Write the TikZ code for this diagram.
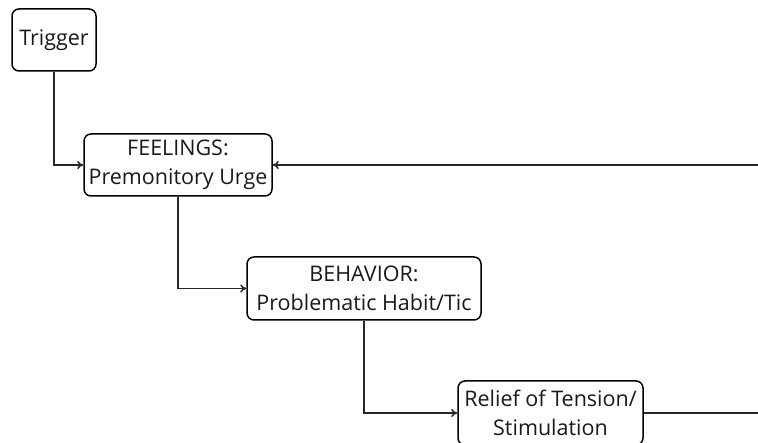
\documentclass[tikz,border=0pt]{standalone}
\usepackage{fontspec}
\setmainfont{Open Sans}
\usetikzlibrary{arrows.meta}
\begin{document}
\begin{tikzpicture}[x=1pt,y=-1pt,
  stagebox/.style={draw, line width=1.5pt, rounded corners=7pt, align=center,
    inner sep=0pt, font=\fontsize{21.5}{28.5}\selectfont, text=black!90},
  link/.style={line width=1.5pt, draw=black!85, -{To[length=6pt,width=8pt]}},
  plain/.style={line width=1.5pt, draw=black!85}]
\useasboundingbox (0,0) rectangle (758,443);
\clip (0,0) rectangle (758,443);
\node[stagebox, minimum width=84pt, minimum height=62pt] (trig) at (54,40) {Trigger};
\node[stagebox, minimum width=188pt, minimum height=62pt] (feel) at (178,165) {FEELINGS:\\Premonitory Urge};
\node[stagebox, minimum width=234pt, minimum height=63pt] (beh) at (364,288.5) {BEHAVIOR:\\Problematic Habit/Tic};
\node[stagebox, minimum width=185pt, minimum height=64pt] (rel) at (550.5,413) {Relief of Tension/\\Stimulation};
\coordinate (east1) at (758,165);
\coordinate (east2) at (758,413);
\draw[link] (trig.south) |- (feel.west);
\draw[link] (feel.south) |- (beh.west);
\draw[link] (beh.south) |- (rel.west);
\draw[link] (east1) -- (feel.east);
\draw[plain] (rel.east) -- (east2);
\end{tikzpicture}
\end{document}
